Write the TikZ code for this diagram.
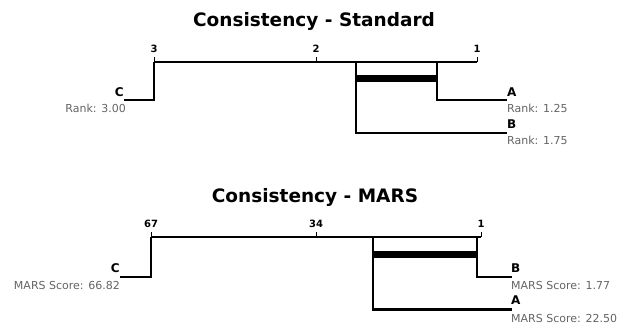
\documentclass[tikz,border=0pt]{standalone}
\usepackage{fontspec}
\setmainfont{DejaVu Sans}
\definecolor{scoregray}{RGB}{100,100,100}
\tikzset{
  axisline/.style={line width=2pt},
  tickline/.style={line width=1pt},
  rankline/.style={line width=2.2pt},
  cliquebar/.style={line width=6.5pt},
  titletext/.style={font=\fontsize{18.5}{22}\selectfont\bfseries, inner sep=0pt},
  ticktext/.style={font=\fontsize{10}{12}\selectfont\bfseries, inner sep=0pt, anchor=base},
  nametext/.style={font=\fontsize{12}{14}\selectfont\bfseries, inner sep=0pt},
  scoretext/.style={font=\fontsize{11}{13}\selectfont, text=scoregray, inner sep=0pt},
}
\begin{document}
\begin{tikzpicture}[x=1pt,y=-1pt]
\useasboundingbox (0,0) rectangle (622,322);
% ---------- Top: Standard ----------
\node[titletext, anchor=base] (title1) at (314,26.5) {Consistency - Standard};
\coordinate (s3) at (154,62);
\coordinate (s2) at (316,62);
\coordinate (s1) at (477,62);
\coordinate (s3u) at (154,57);
\coordinate (s2u) at (316,57);
\coordinate (s1u) at (477,57);
\draw[axisline] (s3) -- (s1);
\draw[tickline] (s3) -- (s3u);
\draw[tickline] (s2) -- (s2u);
\draw[tickline] (s1) -- (s1u);
\node[ticktext] (l3) at (154,52) {3};
\node[ticktext] (l2) at (316,52) {2};
\node[ticktext] (l1) at (477,52) {1};
% C
\coordinate (sCv) at (154,100);
\coordinate (sCe) at (124,100);
\draw[rankline] (s3) -- (sCv) -- (sCe);
\node[nametext, anchor=base east] (sC) at (124,96) {C};
\node[scoretext, anchor=base east] (sCs) at (126,112) {Rank: 3.00};
% A
\coordinate (sAt) at (437,62);
\coordinate (sAv) at (437,100);
\coordinate (sAe) at (507,100);
\draw[rankline] (sAt) -- (sAv) -- (sAe);
\node[nametext, anchor=base west] (sA) at (507,96) {A};
\node[scoretext, anchor=base west] (sAs) at (507,112) {Rank: 1.25};
% B
\coordinate (sBt) at (356,62);
\coordinate (sBv) at (356,133);
\coordinate (sBe) at (507,133);
\draw[rankline] (sBt) -- (sBv) -- (sBe);
\node[nametext, anchor=base west] (sB) at (507,128) {B};
\node[scoretext, anchor=base west] (sBs) at (507,144) {Rank: 1.75};
% clique
\coordinate (sq1) at (356,78.5);
\coordinate (sq2) at (437,78.5);
\draw[cliquebar] (sq1) -- (sq2);
% ---------- Bottom: MARS ----------
\node[titletext, anchor=base] (title2) at (315,202) {Consistency - MARS};
\coordinate (m67) at (151,237);
\coordinate (m34) at (316,237);
\coordinate (m1) at (481,237);
\coordinate (m67u) at (151,232);
\coordinate (m34u) at (316,232);
\coordinate (m1u) at (481,232);
\draw[axisline] (m67) -- (m1);
\draw[tickline] (m67) -- (m67u);
\draw[tickline] (m34) -- (m34u);
\draw[tickline] (m1) -- (m1u);
\node[ticktext] (k67) at (151,227) {67};
\node[ticktext] (k34) at (316,227) {34};
\node[ticktext] (k1) at (481,227) {1};
% C
\coordinate (mCv) at (151,277);
\coordinate (mCe) at (120,277);
\draw[rankline] (m67) -- (mCv) -- (mCe);
\node[nametext, anchor=base east] (mC) at (120,272) {C};
\node[scoretext, anchor=base east] (mCs) at (120,289) {MARS Score: 66.82};
% B
\coordinate (mBt) at (477,237);
\coordinate (mBv) at (477,277);
\coordinate (mBe) at (512,277);
\draw[rankline] (mBt) -- (mBv) -- (mBe);
\node[nametext, anchor=base west] (mB) at (511,272) {B};
\node[scoretext, anchor=base west] (mBs) at (511,289) {MARS Score: 1.77};
% A
\coordinate (mAt) at (373,237);
\coordinate (mAv) at (373,309.5);
\coordinate (mAe) at (512,309.5);
\draw[rankline] (mAt) -- (mAv) -- (mAe);
\node[nametext, anchor=base west] (mA) at (511,304) {A};
\node[scoretext, anchor=base west] (mAs) at (511,322) {MARS Score: 22.50};
% clique
\coordinate (mq1) at (373,254.5);
\coordinate (mq2) at (477,254.5);
\draw[cliquebar] (mq1) -- (mq2);
\end{tikzpicture}
\end{document}
